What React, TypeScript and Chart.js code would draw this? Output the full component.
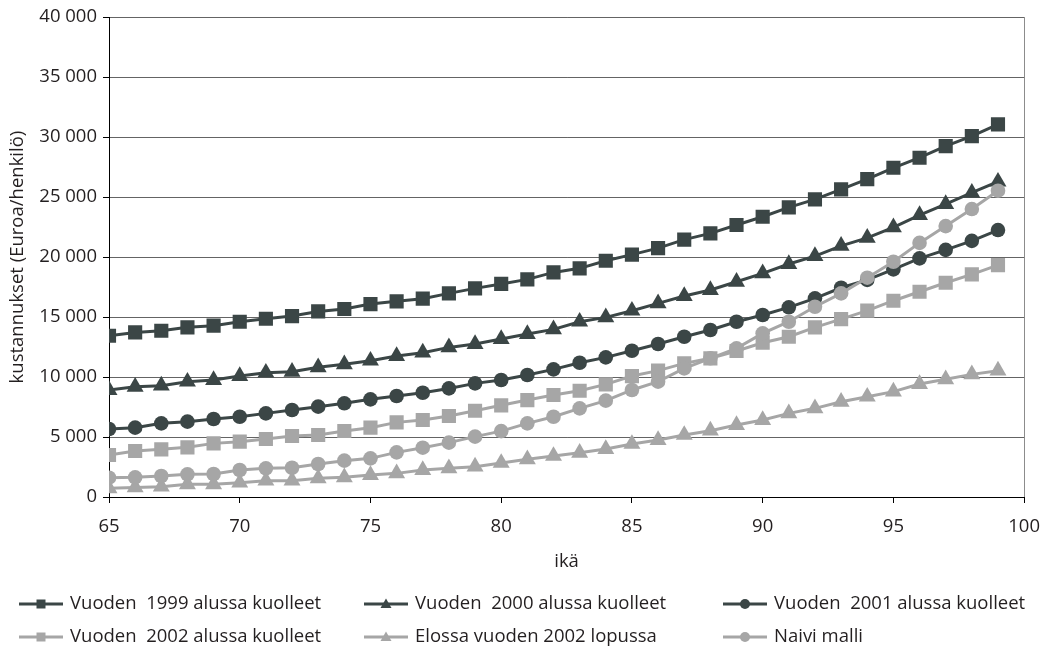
import React, { useEffect, useRef } from "react";
import { Chart, registerables } from "chart.js";

Chart.register(...registerables);

// Age (years)
const ages = [65, 66, 67, 68, 69, 70, 71, 72, 73, 74, 75, 76, 77, 78, 79, 80, 81, 82, 83, 84, 85, 86, 87, 88, 89, 90, 91, 92, 93, 94, 95, 96, 97, 98, 99];

// Costs, euro per person
const died1999 = [13440, 13720, 13860, 14140, 14280, 14610, 14860, 15080, 15470, 15670, 16080, 16310, 16530, 16970, 17390, 17760, 18140, 18720, 19060, 19690, 20200, 20740, 21450, 21970, 22670, 23360, 24140, 24810, 25640, 26500, 27440, 28280, 29250, 30080, 31060];
const died2000 = [8920, 9190, 9280, 9610, 9750, 10080, 10360, 10440, 10810, 11060, 11360, 11750, 12030, 12470, 12750, 13170, 13580, 13970, 14610, 14970, 15530, 16140, 16750, 17250, 17940, 18640, 19420, 20080, 20930, 21600, 22470, 23500, 24420, 25360, 26280];
const died2001 = [5670, 5780, 6140, 6280, 6500, 6690, 6970, 7250, 7530, 7810, 8140, 8420, 8690, 9050, 9470, 9750, 10170, 10640, 11190, 11640, 12190, 12750, 13360, 13920, 14610, 15170, 15810, 16560, 17440, 18100, 18970, 19890, 20600, 21350, 22250];
const died2002 = [3500, 3830, 3970, 4140, 4470, 4610, 4830, 5080, 5170, 5500, 5780, 6220, 6420, 6750, 7190, 7640, 8080, 8500, 8860, 9390, 10080, 10530, 11140, 11560, 12170, 12860, 13360, 14140, 14830, 15530, 16360, 17110, 17860, 18560, 19330];
const alive2002 = [720, 800, 860, 1060, 1060, 1190, 1360, 1360, 1560, 1640, 1830, 1970, 2250, 2390, 2530, 2840, 3140, 3420, 3690, 4000, 4420, 4750, 5170, 5530, 6000, 6420, 6970, 7390, 7940, 8360, 8780, 9420, 9810, 10220, 10530];
const naive = [1610, 1640, 1750, 1890, 1920, 2250, 2390, 2440, 2750, 3030, 3220, 3720, 4110, 4530, 5030, 5490, 6140, 6690, 7390, 8030, 8920, 9610, 10720, 11560, 12390, 13640, 14610, 15860, 16970, 18280, 19610, 21180, 22580, 24000, 25530];

const seriesLabels = [
  "Vuoden  1999 alussa kuolleet",
  "Vuoden  2000 alussa kuolleet",
  "Vuoden  2001 alussa kuolleet",
  "Vuoden  2002 alussa kuolleet",
  "Elossa vuoden 2002 lopussa",
  "Naivi malli",
];

const FONT = "'Open Sans', 'DejaVu Sans', sans-serif";
const FONT_SIZE = 18.5;
const DARK = "#3b4646";
const LIGHT = "#a6a6a6";
const TEXT = "#231f20";

const fmt = (v: number) => String(v).replace(/\B(?=(\d{3})+(?!\d))/g, " ");

function makeSeries(label: string, values: number[], color: string, pointStyle: string, radius: number, order: number) {
  return {
    label,
    data: ages.map((a, i) => ({ x: a, y: values[i] })),
    borderColor: color,
    backgroundColor: color,
    borderWidth: 3,
    pointStyle,
    pointRadius: radius,
    pointBorderWidth: 0,
    pointBackgroundColor: color,
    pointBorderColor: color,
    order,
  };
}

// Legend laid out as a fixed 3 x 2 grid below the axis title
const gridLegend = {
  id: "gridLegend",
  afterDraw(chart: any) {
    const ctx = chart.ctx as CanvasRenderingContext2D;
    const cols = [19, 364, 723];
    const rows = [604, 637];
    chart.data.datasets.forEach((ds: any, i: number) => {
      const x = cols[i % 3];
      const y = rows[Math.floor(i / 3)];
      const cx = x + 22;
      ctx.save();
      ctx.strokeStyle = ds.borderColor;
      ctx.lineWidth = 3;
      ctx.beginPath();
      ctx.moveTo(x, y);
      ctx.lineTo(x + 44, y);
      ctx.stroke();
      ctx.fillStyle = ds.borderColor;
      ctx.beginPath();
      if (ds.pointStyle === "rect") {
        ctx.rect(cx - 4.5, y - 4.5, 9, 9);
      } else if (ds.pointStyle === "circle") {
        ctx.arc(cx, y, 5, 0, Math.PI * 2);
      } else {
        ctx.moveTo(cx, y - 5.5);
        ctx.lineTo(cx + 5.5, y + 4);
        ctx.lineTo(cx - 5.5, y + 4);
        ctx.closePath();
      }
      ctx.fill();
      ctx.fillStyle = TEXT;
      ctx.font = `${FONT_SIZE}px ${FONT}`;
      ctx.textBaseline = "middle";
      ctx.textAlign = "left";
      ctx.fillText(ds.label, x + 51, y);
      ctx.restore();
    });
  },
};

export default function App() {
  const ref = useRef<HTMLCanvasElement | null>(null);

  useEffect(() => {
    if (!ref.current) return;
    const chart = new Chart(ref.current, {
      type: "line",
      data: {
        datasets: [
          makeSeries(seriesLabels[0], died1999, DARK, "rect", 10, 6),
          makeSeries(seriesLabels[1], died2000, DARK, "triangle", 9.8, 5),
          makeSeries(seriesLabels[2], died2001, DARK, "circle", 7.3, 4),
          makeSeries(seriesLabels[3], died2002, LIGHT, "rect", 10, 3),
          makeSeries(seriesLabels[4], alive2002, LIGHT, "triangle", 9.8, 2),
          makeSeries(seriesLabels[5], naive, LIGHT, "circle", 7.3, 1),
        ] as any,
      },
      options: {
        animation: false,
        responsive: true,
        maintainAspectRatio: false,
        layout: { padding: { left: 0, top: 17, right: 25, bottom: 77 } },
        plugins: {
          legend: { display: false },
          tooltip: { enabled: false },
        },
        scales: {
          x: {
            type: "linear",
            min: 65,
            max: 100,
            ticks: {
              stepSize: 5,
              padding: 13,
              color: TEXT,
              font: { family: FONT, size: FONT_SIZE },
            },
            grid: {
              color: (c: any) => (c.tick && c.tick.value === 100 ? "#8c8c8c" : "rgba(0,0,0,0)"),
              tickColor: "#000",
              tickLength: 6,
              lineWidth: 1,
            },
            border: { color: "#000", width: 1 },
            title: {
              display: true,
              text: "ikä",
              color: TEXT,
              font: { family: FONT, size: FONT_SIZE },
              padding: { top: 0, bottom: 0 },
            },
            afterFit: (s: any) => {
              s.height = 76;
            },
          },
          y: {
            min: 0,
            max: 40000,
            ticks: {
              stepSize: 5000,
              padding: 6,
              color: TEXT,
              font: { family: FONT, size: FONT_SIZE },
              callback: (v: any) => fmt(Number(v)),
            },
            grid: {
              color: "#646464",
              tickColor: "#000",
              tickLength: 6,
              lineWidth: 1,
            },
            border: { color: "#000", width: 1 },
            title: {
              display: true,
              text: "kustannukset (Euroa/henkilö)",
              color: TEXT,
              font: { family: FONT, size: FONT_SIZE },
              padding: { top: 7, bottom: 0 },
            },
            afterFit: (s: any) => {
              s.width = 109;
            },
          },
        },
      } as any,
      plugins: [gridLegend],
    });
    return () => chart.destroy();
  }, []);

  return (
    <div style={{ position: "fixed", left: 0, top: 0, width: 1053, height: 650, background: "#fff" }}>
      <canvas ref={ref} />
    </div>
  );
}
